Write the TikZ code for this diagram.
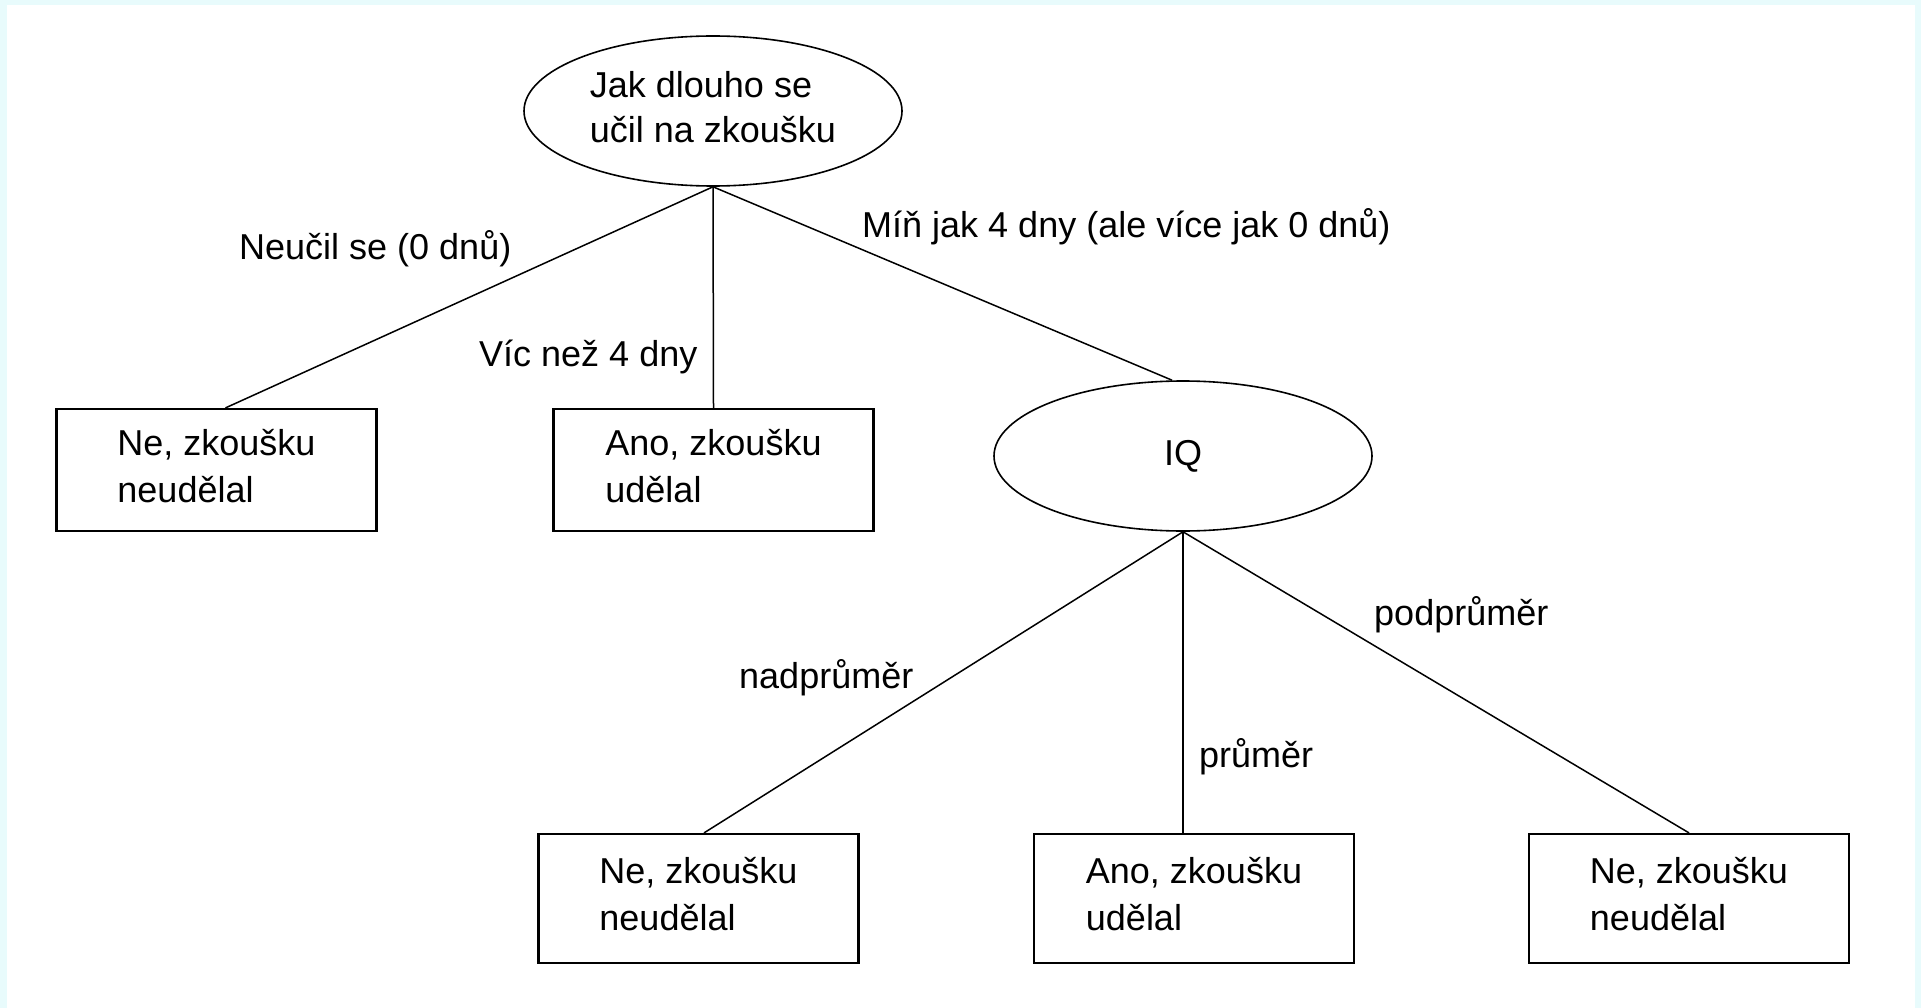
\documentclass[tikz,border=0pt]{standalone}
\usepackage{fontspec}
\setmainfont{Liberation Sans}
\usetikzlibrary{shapes.geometric}
\definecolor{framecyan}{HTML}{E8FBFC}
% extra depth so the two-line texts sit a little higher in their shapes
\newcommand{\lowpad}{\rule[-9pt]{0pt}{0pt}}
\begin{document}
\begin{tikzpicture}[x=1pt,y=-1pt,
  decision/.style={draw=black, line width=1.6pt, ellipse, minimum width=378pt,
    minimum height=150pt, inner sep=0pt, align=left,
    font=\fontsize{36}{45}\selectfont},
  leaf/.style={draw=black, line width=2.2pt, rectangle, minimum width=320pt,
    inner sep=0pt, align=left, font=\fontsize{36}{47}\selectfont},
  conn/.style={draw=black, line width=1.5pt},
  lbl/.style={anchor=base west, inner sep=0pt, font=\fontsize{36}{40}\selectfont}]
  % page frame
  \fill[framecyan] (0,0) rectangle (1921,1008);
  \fill[white] (7,5) rectangle (1915,1008);
  \useasboundingbox (0,0) rectangle (1921,1008);

  % decision nodes
  \node[decision] (root) at (713,111) {Jak dlouho se\\učil na zkoušku\lowpad};
  \node[decision] (iq) at (1183,456) {IQ};

  % outcomes
  \node[leaf, minimum height=122pt] (b1) at (216.5,470) {Ne, zkoušku\\neudělal\lowpad};
  \node[leaf, minimum height=122pt] (b2) at (713.5,470) {Ano, zkoušku\\udělal\lowpad};
  \node[leaf, minimum height=129pt] (b3) at (698.5,898.5) {Ne, zkoušku\\neudělal\lowpad};
  \node[leaf, minimum height=129pt] (b4) at (1194,898.5) {Ano, zkoušku\\udělal\lowpad};
  \node[leaf, minimum height=129pt] (b5) at (1689,898.5) {Ne, zkoušku\\neudělal\lowpad};

  % branches
  \draw[conn] (root.south) -- ([xshift=9pt]b1.north);
  \draw[conn] (root.south) -- (b2.north);
  \draw[conn] (root.south) -- ([xshift=-11pt]iq.north);
  \draw[conn] (iq.south) -- ([xshift=5.5pt]b3.north);
  \draw[conn] (iq.south) -- ([xshift=-11pt]b4.north);
  \draw[conn] (iq.south) -- (b5.north);

  % branch labels
  \node[lbl] (l1) at (239,259) {Neučil se (0 dnů)};
  \node[lbl] (l2) at (479,366) {Víc než 4 dny};
  \node[lbl] (l3) at (862,238) {Míň jak 4 dny (ale více jak 0 dnů)};
  \node[lbl] (l4) at (739,688) {nadprůměr};
  \node[lbl] (l5) at (1199,767) {průměr};
  \node[lbl] (l6) at (1374,625) {podprůměr};
\end{tikzpicture}
\end{document}
